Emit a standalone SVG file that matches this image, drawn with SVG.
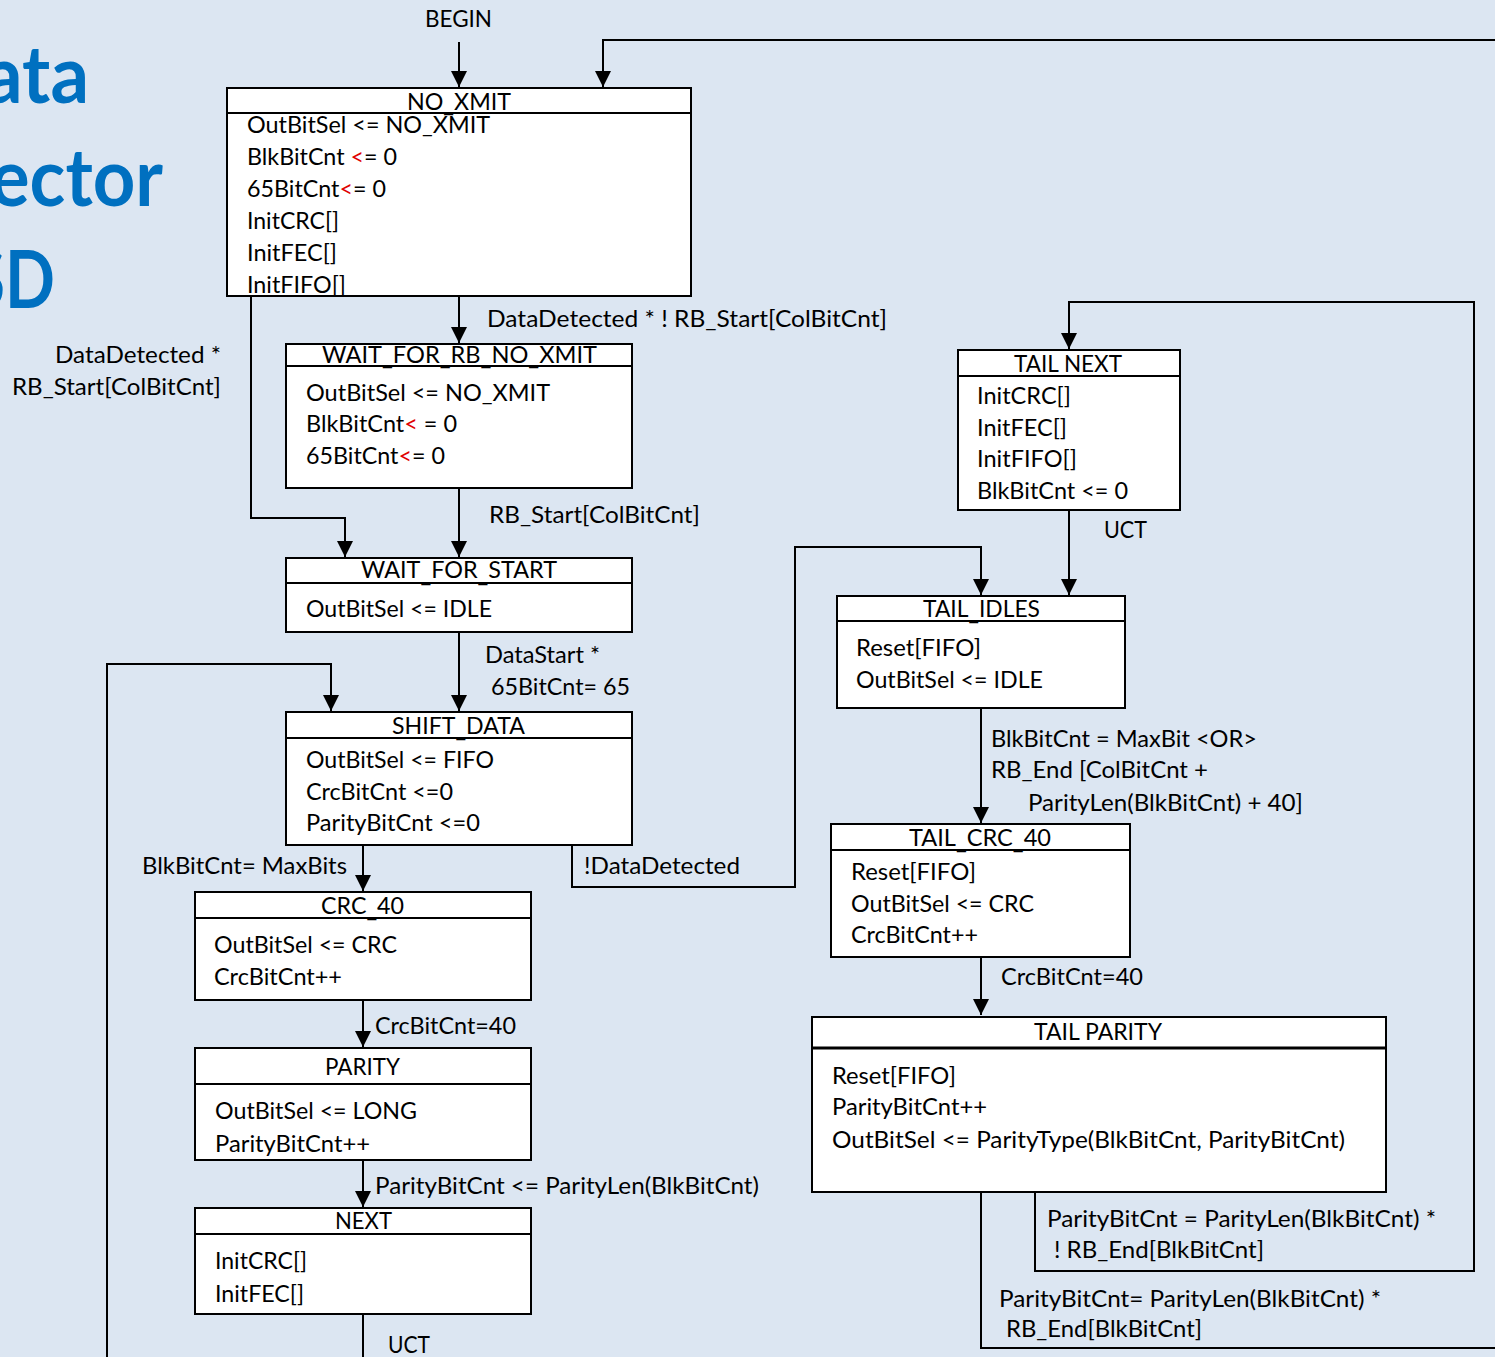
<svg xmlns="http://www.w3.org/2000/svg" width="1495" height="1357" viewBox="0 0 1495 1357">
<style>
.bg{fill:#dce6f2}
.box{fill:#fff;stroke:#000;stroke-width:2}
.dv{stroke:#000;stroke-width:2}
.dv3{stroke:#000;stroke-width:3}
.t{font-family:Lato,"Open Sans",sans-serif;font-size:23px;fill:#000}
.h{font-family:Lato,"Open Sans",sans-serif;font-size:23px;fill:#000;text-anchor:middle}
.r{fill:#e00000}
.title{font-family:Lato,"Open Sans",sans-serif;font-weight:bold;font-size:80px;fill:#0070c0}
.c{fill:none;stroke:#000;stroke-width:2}
</style>
<defs>
<marker id="arr" viewBox="0 0 16 16" refX="16" refY="8" markerWidth="16" markerHeight="16" markerUnits="userSpaceOnUse" orient="auto">
<path d="M0,0 L16,8 L0,16 z" fill="#000"/>
</marker>
</defs>
<rect class="bg" x="0" y="0" width="1495" height="1357"/>

<g id="title">
<text class="title" x="-16" y="103" textLength="105" lengthAdjust="spacingAndGlyphs">ata</text>
<text class="title" x="-10" y="206" textLength="173" lengthAdjust="spacingAndGlyphs">ector</text>
<text class="title" x="-31" y="308" textLength="86" lengthAdjust="spacingAndGlyphs">SD</text>
</g>

<g id="connectors">
<path class="c" d="M459,42 V87" marker-end="url(#arr)"/>
<path class="c" d="M459,296 V343" marker-end="url(#arr)"/>
<path class="c" d="M251,296 V518 H345 V557" marker-end="url(#arr)"/>
<path class="c" d="M459,488 V557" marker-end="url(#arr)"/>
<path class="c" d="M459,632 V711" marker-end="url(#arr)"/>
<path class="c" d="M363,1314 V1380 H107 V664 H331 V711" marker-end="url(#arr)"/>
<path class="c" d="M363,845 V891" marker-end="url(#arr)"/>
<path class="c" d="M572,845 V887 H795 V547 H981 V595" marker-end="url(#arr)"/>
<path class="c" d="M363,1000 V1047" marker-end="url(#arr)"/>
<path class="c" d="M363,1160 V1207" marker-end="url(#arr)"/>
<path class="c" d="M1069,510 V595" marker-end="url(#arr)"/>
<path class="c" d="M981,708 V823" marker-end="url(#arr)"/>
<path class="c" d="M981,957 V1015" marker-end="url(#arr)"/>
<path class="c" d="M1035,1192 V1271 H1474 V302 H1069 V349" marker-end="url(#arr)"/>
<path class="c" d="M981,1192 V1348 H1520 V40 H603 V87" marker-end="url(#arr)"/>
</g>

<g id="labels">
<text class="t" x="425" y="27" textLength="67" lengthAdjust="spacingAndGlyphs">BEGIN</text>
<text class="t" x="487" y="327" textLength="400" lengthAdjust="spacingAndGlyphs">DataDetected * ! RB_Start[ColBitCnt]</text>
<text class="t" x="55" y="363" textLength="166" lengthAdjust="spacingAndGlyphs">DataDetected *</text>
<text class="t" x="12" y="395" textLength="209" lengthAdjust="spacingAndGlyphs">RB_Start[ColBitCnt]</text>
<text class="t" x="489" y="523" textLength="211" lengthAdjust="spacingAndGlyphs">RB_Start[ColBitCnt]</text>
<text class="t" x="485" y="663" textLength="115" lengthAdjust="spacingAndGlyphs">DataStart *</text>
<text class="t" x="491" y="695" textLength="139" lengthAdjust="spacingAndGlyphs">65BitCnt= 65</text>
<text class="t" x="142" y="874" textLength="205" lengthAdjust="spacingAndGlyphs">BlkBitCnt= MaxBits</text>
<text class="t" x="584" y="874" textLength="156" lengthAdjust="spacingAndGlyphs">!DataDetected</text>
<text class="t" x="375" y="1034" textLength="141" lengthAdjust="spacingAndGlyphs">CrcBitCnt=40</text>
<text class="t" x="375" y="1194" textLength="384" lengthAdjust="spacingAndGlyphs">ParityBitCnt &lt;= ParityLen(BlkBitCnt)</text>
<text class="t" x="388" y="1353" textLength="42" lengthAdjust="spacingAndGlyphs">UCT</text>
<text class="t" x="1104" y="538" textLength="43" lengthAdjust="spacingAndGlyphs">UCT</text>
<text class="t" x="991" y="747" textLength="266" lengthAdjust="spacingAndGlyphs">BlkBitCnt = MaxBit &lt;OR&gt;</text>
<text class="t" x="991" y="778" textLength="217" lengthAdjust="spacingAndGlyphs">RB_End [ColBitCnt +</text>
<text class="t" x="1028" y="811" textLength="275" lengthAdjust="spacingAndGlyphs">ParityLen(BlkBitCnt) + 40]</text>
<text class="t" x="1001" y="985" textLength="142" lengthAdjust="spacingAndGlyphs">CrcBitCnt=40</text>
<text class="t" x="1047" y="1227" textLength="389" lengthAdjust="spacingAndGlyphs">ParityBitCnt = ParityLen(BlkBitCnt) *</text>
<text class="t" x="1054" y="1258" textLength="210" lengthAdjust="spacingAndGlyphs">! RB_End[BlkBitCnt]</text>
<text class="t" x="999" y="1307" textLength="382" lengthAdjust="spacingAndGlyphs">ParityBitCnt= ParityLen(BlkBitCnt) *</text>
<text class="t" x="1006" y="1337" textLength="196" lengthAdjust="spacingAndGlyphs">RB_End[BlkBitCnt]</text>
</g>

<g id="NO_XMIT">
<rect class="box" x="227" y="88" width="464" height="208"/>
<text class="h" x="459" y="110" textLength="104" lengthAdjust="spacingAndGlyphs">NO<tspan dy="2">_</tspan><tspan dy="-2">XMIT</tspan></text>
<line class="dv" x1="227" y1="113" x2="691" y2="113"/>
<text class="t" x="247" y="133" textLength="243" lengthAdjust="spacingAndGlyphs">OutBitSel &lt;= NO_XMIT</text>
<text class="t" x="247" y="165" textLength="150" lengthAdjust="spacingAndGlyphs">BlkBitCnt <tspan class="r">&lt;</tspan>= 0</text>
<text class="t" x="247" y="197" textLength="139" lengthAdjust="spacingAndGlyphs">65BitCnt<tspan class="r">&lt;</tspan>= 0</text>
<text class="t" x="247" y="229" textLength="92" lengthAdjust="spacingAndGlyphs">InitCRC[]</text>
<text class="t" x="247" y="261" textLength="90" lengthAdjust="spacingAndGlyphs">InitFEC[]</text>
<text class="t" x="247" y="293" textLength="99" lengthAdjust="spacingAndGlyphs">InitFIFO[]</text>
</g>

<g id="WAIT_FOR_RB_NO_XMIT">
<rect class="box" x="286" y="344" width="346" height="144"/>
<text class="h" x="459.5" y="363" textLength="275" lengthAdjust="spacingAndGlyphs">WAIT<tspan dy="2">_</tspan><tspan dy="-2">FOR</tspan><tspan dy="2">_</tspan><tspan dy="-2">RB</tspan><tspan dy="2">_</tspan><tspan dy="-2">NO</tspan><tspan dy="2">_</tspan><tspan dy="-2">XMIT</tspan></text>
<line class="dv" x1="286" y1="366" x2="632" y2="366"/>
<text class="t" x="306" y="401" textLength="244" lengthAdjust="spacingAndGlyphs">OutBitSel &lt;= NO_XMIT</text>
<text class="t" x="306" y="432" textLength="151" lengthAdjust="spacingAndGlyphs">BlkBitCnt<tspan class="r">&lt;</tspan> = 0</text>
<text class="t" x="306" y="464" textLength="139" lengthAdjust="spacingAndGlyphs">65BitCnt<tspan class="r">&lt;</tspan>= 0</text>
</g>

<g id="WAIT_FOR_START">
<rect class="box" x="286" y="558" width="346" height="74"/>
<text class="h" x="459" y="578" textLength="196" lengthAdjust="spacingAndGlyphs">WAIT<tspan dy="4">_</tspan><tspan dy="-4">FOR</tspan><tspan dy="4">_</tspan><tspan dy="-4">START</tspan></text>
<line class="dv" x1="286" y1="583" x2="632" y2="583"/>
<text class="t" x="306" y="617" textLength="186" lengthAdjust="spacingAndGlyphs">OutBitSel &lt;= IDLE</text>
</g>

<g id="SHIFT_DATA">
<rect class="box" x="286" y="712" width="346" height="133"/>
<text class="h" x="458.5" y="734" textLength="133" lengthAdjust="spacingAndGlyphs">SHIFT<tspan dy="3">_</tspan><tspan dy="-3">DATA</tspan></text>
<line class="dv" x1="286" y1="738" x2="632" y2="738"/>
<text class="t" x="306" y="768" textLength="188" lengthAdjust="spacingAndGlyphs">OutBitSel &lt;= FIFO</text>
<text class="t" x="306" y="800" textLength="147" lengthAdjust="spacingAndGlyphs">CrcBitCnt &lt;=0</text>
<text class="t" x="306" y="831" textLength="174" lengthAdjust="spacingAndGlyphs">ParityBitCnt &lt;=0</text>
</g>

<g id="CRC_40">
<rect class="box" x="195" y="892" width="336" height="108"/>
<text class="h" x="362.5" y="914" textLength="83" lengthAdjust="spacingAndGlyphs">CRC<tspan dy="3">_</tspan><tspan dy="-3">40</tspan></text>
<line class="dv" x1="195" y1="918" x2="531" y2="918"/>
<text class="t" x="214" y="953" textLength="183" lengthAdjust="spacingAndGlyphs">OutBitSel &lt;= CRC</text>
<text class="t" x="214" y="985" textLength="128" lengthAdjust="spacingAndGlyphs">CrcBitCnt++</text>
</g>

<g id="PARITY">
<rect class="box" x="195" y="1048" width="336" height="112"/>
<line class="dv" x1="195" y1="1084" x2="531" y2="1084"/>
<text class="h" x="362.5" y="1075" textLength="75" lengthAdjust="spacingAndGlyphs">PARITY</text>
<text class="t" x="215" y="1119" textLength="202" lengthAdjust="spacingAndGlyphs">OutBitSel &lt;= LONG</text>
<text class="t" x="215" y="1152" textLength="155" lengthAdjust="spacingAndGlyphs">ParityBitCnt++</text>
</g>

<g id="NEXT">
<rect class="box" x="195" y="1208" width="336" height="106"/>
<line class="dv" x1="195" y1="1234" x2="531" y2="1234"/>
<text class="h" x="363.5" y="1229" textLength="57" lengthAdjust="spacingAndGlyphs">NEXT</text>
<text class="t" x="215" y="1269" textLength="92" lengthAdjust="spacingAndGlyphs">InitCRC[]</text>
<text class="t" x="215" y="1302" textLength="89" lengthAdjust="spacingAndGlyphs">InitFEC[]</text>
</g>

<g id="TAIL_NEXT">
<rect class="box" x="958" y="350" width="222" height="160"/>
<line class="dv" x1="958" y1="376" x2="1180" y2="376"/>
<text class="h" x="1068" y="372" textLength="108" lengthAdjust="spacingAndGlyphs">TAIL NEXT</text>
<text class="t" x="977" y="404" textLength="94" lengthAdjust="spacingAndGlyphs">InitCRC[]</text>
<text class="t" x="977" y="436" textLength="90" lengthAdjust="spacingAndGlyphs">InitFEC[]</text>
<text class="t" x="977" y="467" textLength="100" lengthAdjust="spacingAndGlyphs">InitFIFO[]</text>
<text class="t" x="977" y="499" textLength="151" lengthAdjust="spacingAndGlyphs">BlkBitCnt &lt;= 0</text>
</g>

<g id="TAIL_IDLES">
<rect class="box" x="837" y="596" width="288" height="112"/>
<text class="h" x="981.5" y="617" textLength="117" lengthAdjust="spacingAndGlyphs">TAIL<tspan dy="3">_</tspan><tspan dy="-3">IDLES</tspan></text>
<line class="dv" x1="837" y1="621" x2="1125" y2="621"/>
<text class="t" x="856" y="656" textLength="125" lengthAdjust="spacingAndGlyphs">Reset[FIFO]</text>
<text class="t" x="856" y="688" textLength="187" lengthAdjust="spacingAndGlyphs">OutBitSel &lt;= IDLE</text>
</g>

<g id="TAIL_CRC_40">
<rect class="box" x="831" y="824" width="299" height="133"/>
<text class="h" x="980" y="846" textLength="142" lengthAdjust="spacingAndGlyphs">TAIL<tspan dy="3">_</tspan><tspan dy="-3">CRC</tspan><tspan dy="3">_</tspan><tspan dy="-3">40</tspan></text>
<line class="dv" x1="831" y1="850" x2="1130" y2="850"/>
<text class="t" x="851" y="880" textLength="125" lengthAdjust="spacingAndGlyphs">Reset[FIFO]</text>
<text class="t" x="851" y="912" textLength="183" lengthAdjust="spacingAndGlyphs">OutBitSel &lt;= CRC</text>
<text class="t" x="851" y="943" textLength="127" lengthAdjust="spacingAndGlyphs">CrcBitCnt++</text>
</g>

<g id="TAIL_PARITY">
<rect class="box" x="812" y="1017" width="574" height="175"/>
<line class="dv3" x1="812" y1="1048" x2="1386" y2="1048"/>
<text class="h" x="1098" y="1040" textLength="128" lengthAdjust="spacingAndGlyphs">TAIL PARITY</text>
<text class="t" x="832" y="1084" textLength="124" lengthAdjust="spacingAndGlyphs">Reset[FIFO]</text>
<text class="t" x="832" y="1115" textLength="155" lengthAdjust="spacingAndGlyphs">ParityBitCnt++</text>
<text class="t" x="832" y="1148" textLength="513" lengthAdjust="spacingAndGlyphs">OutBitSel &lt;= ParityType(BlkBitCnt, ParityBitCnt)</text>
</g>
</svg>
